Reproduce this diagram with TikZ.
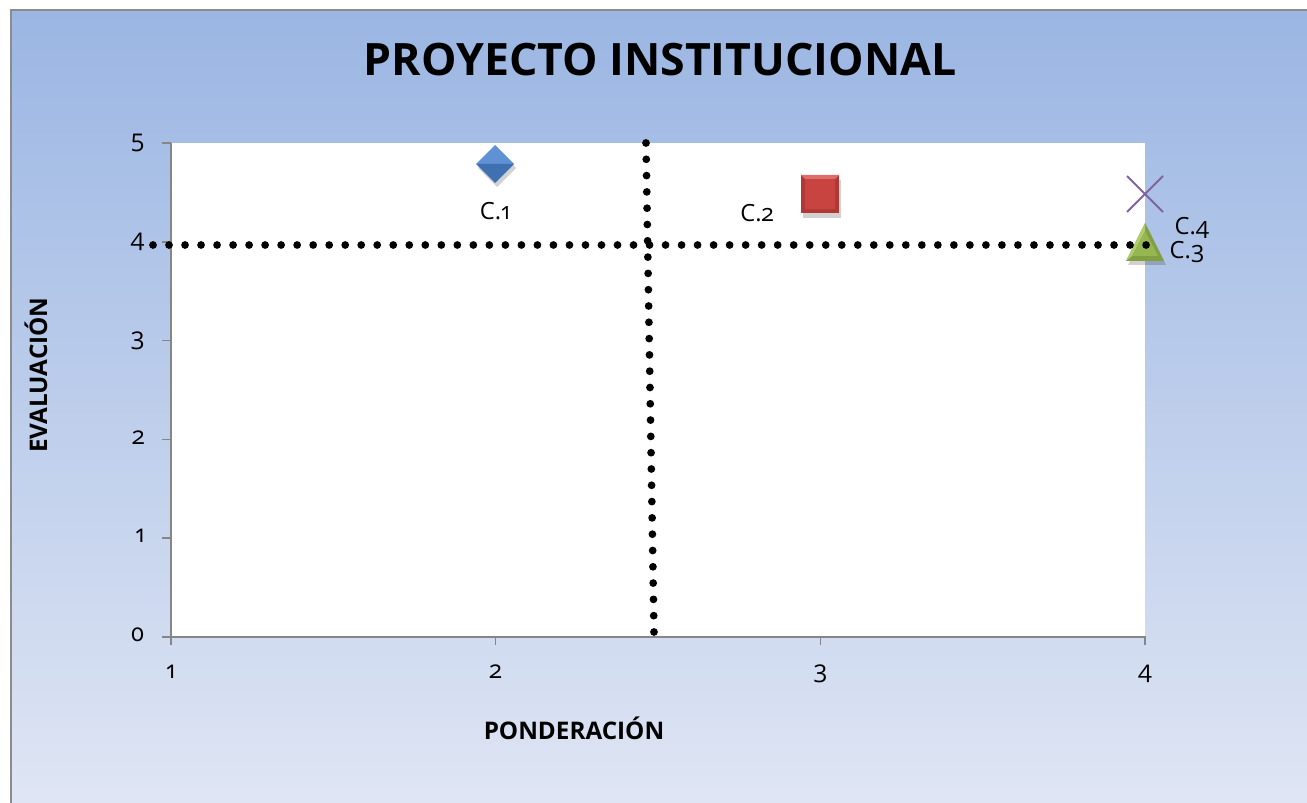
\documentclass[tikz,border=0pt]{standalone}
\usepackage{fontspec}
\setmainfont{Open Sans}[Numbers=OldStyle]
\definecolor{bgtop}{RGB}{155,182,227}
\definecolor{bgbot}{RGB}{224,230,244}
\definecolor{framegray}{RGB}{140,140,140}
\definecolor{axisgray}{RGB}{134,134,134}
\definecolor{blueL}{RGB}{95,145,212}
\definecolor{blueD}{RGB}{62,112,178}
\definecolor{redO}{RGB}{178,56,53}
\definecolor{redL}{RGB}{222,110,106}
\definecolor{redI}{RGB}{200,68,65}
\definecolor{purpX}{RGB}{128,100,162}
\definecolor{greenO}{RGB}{130,160,66}
\definecolor{greenL}{RGB}{175,205,110}
\definecolor{greenI}{RGB}{150,182,82}
\begin{document}
\begin{tikzpicture}[x=0.02cm,y=-0.02cm,
  axisline/.style={draw=axisgray,line width=0.03cm},
  ticklabel/.style={inner sep=0pt,font=\fontsize{14}{14}\selectfont},
  datalabel/.style={inner sep=0pt,font=\fontsize{13.5}{13.5}\selectfont},
  axtitle/.style={inner sep=0pt,font=\bfseries\fontsize{13.8}{13.8}\selectfont},
  titlestyle/.style={inner sep=0pt,font=\bfseries\fontsize{25.4}{25.4}\selectfont},
  hdots/.style={line width=0.155cm,line cap=round,dash pattern=on 0pt off 0.3204cm},
  vdots/.style={line width=0.155cm,line cap=round,dash pattern=on 0pt off 0.3261cm},
  shadowfill/.style={fill=black,opacity=0.18}]
\useasboundingbox (0,0) rectangle (1307,803);
\clip (0,0) rectangle (1307,803);
\fill[white] (0,0) rectangle (1307,803);
\shade[top color=bgtop,bottom color=bgbot] (11,10) rectangle (1320,815);
\draw[framegray,line width=0.035cm] (11,10) rectangle (1320,815);
% plot area
\fill[white] (171,143) rectangle (1145,637);
% axes
\draw[axisline] (171,143) -- (171,645);
\draw[axisline] (162,637) -- (1145,637) -- (1145,645);
\foreach \yy in {143,241.8,340.6,439.4,538.2,637} \draw[axisline] (162,\yy) -- (171,\yy);
\foreach \xx in {495.7,820.3} \draw[axisline] (\xx,637) -- (\xx,645);
% tick labels
\node[ticklabel,anchor=mid east] (y0) at (145,637) {0};
\node[ticklabel,anchor=mid east] (y1) at (145,538.2) {1};
\node[ticklabel,anchor=mid east] (y2) at (145,439.4) {2};
\node[ticklabel,anchor=mid east] (y3) at (145,340.6) {3};
\node[ticklabel,anchor=mid east] (y4) at (145,241.8) {4};
\node[ticklabel,anchor=mid east] (y5) at (145,143) {5};
\node[ticklabel,anchor=mid] (x1) at (171,674) {1};
\node[ticklabel,anchor=mid] (x2) at (495.7,674) {2};
\node[ticklabel,anchor=mid] (x3) at (820.3,674) {3};
\node[ticklabel,anchor=mid] (x4) at (1145,674) {4};
% titles
\node[titlestyle,anchor=base] (title) at (660,76) {PROYECTO INSTITUCIONAL};
\node[axtitle,anchor=base] (xtitle) at (574,739) {PONDERACIÓN};
\node[axtitle,anchor=base,rotate=90] (ytitle) at (47,375) {EVALUACIÓN};
% data points
\coordinate (p1) at (495,164);
\coordinate (p2) at (820,194);
\coordinate (p4) at (1145,194);
\coordinate (p3) at (1145,242);
% C.1 diamond
\fill[shadowfill] ([shift={(2,4)}]p1) ++(0,-19) -- ++(19,19) -- ++(-19,19) -- ++(-19,-19) -- cycle;
\fill[blueL] (p1) ++(0,-19) -- ++(19,19) -- ++(-38,0) -- cycle;
\fill[blueD] (p1) ++(-19,0) -- ++(38,0) -- ++(-19,19) -- cycle;
% C.2 square
\fill[shadowfill] ([shift={(2,5)}]p2) ++(-19,-19) rectangle ++(38,38);
\fill[redO] (p2) ++(-19,-19) rectangle ++(38,38);
\fill[redL] (p2) ++(-19,-19) -- ++(38,0) -- ++(-4,4) -- ++(-30,0) -- cycle;
\fill[redI] (p2) ++(-15,-15) rectangle ++(30,30);
% C.4 cross
\draw[purpX,line width=0.04cm] (p4) ++(-18,-18) -- ++(36,36);
\draw[purpX,line width=0.04cm] (p4) ++(-18,18) -- ++(36,-36);
% C.3 triangle
\fill[shadowfill] ([shift={(2,4)}]p3) ++(0,-19) -- ++(19,38) -- ++(-38,0) -- cycle;
\fill[greenO] (p3) ++(0,-19) -- ++(19,38) -- ++(-38,0) -- cycle;
\fill[greenL] (p3) ++(0,-19) -- ++(0,8) -- ++(-13,25) -- ++(-6,5) -- cycle;
\fill[greenI] (p3) ++(0,-11) -- ++(13,25) -- ++(-26,0) -- cycle;
% dotted reference lines
\draw[hdots] (153,245) -- (1146.3,245);
\draw[vdots] (646,143) -- (654,632.3);
% data labels
\node[datalabel] (c1) at (495,211) {C.1};
\node[datalabel] (c2) at (757,213) {C.2};
\node[datalabel] (c4) at (1192,228) {C.4};
\node[datalabel] (c3) at (1187,252) {C.3};
\end{tikzpicture}
\end{document}
